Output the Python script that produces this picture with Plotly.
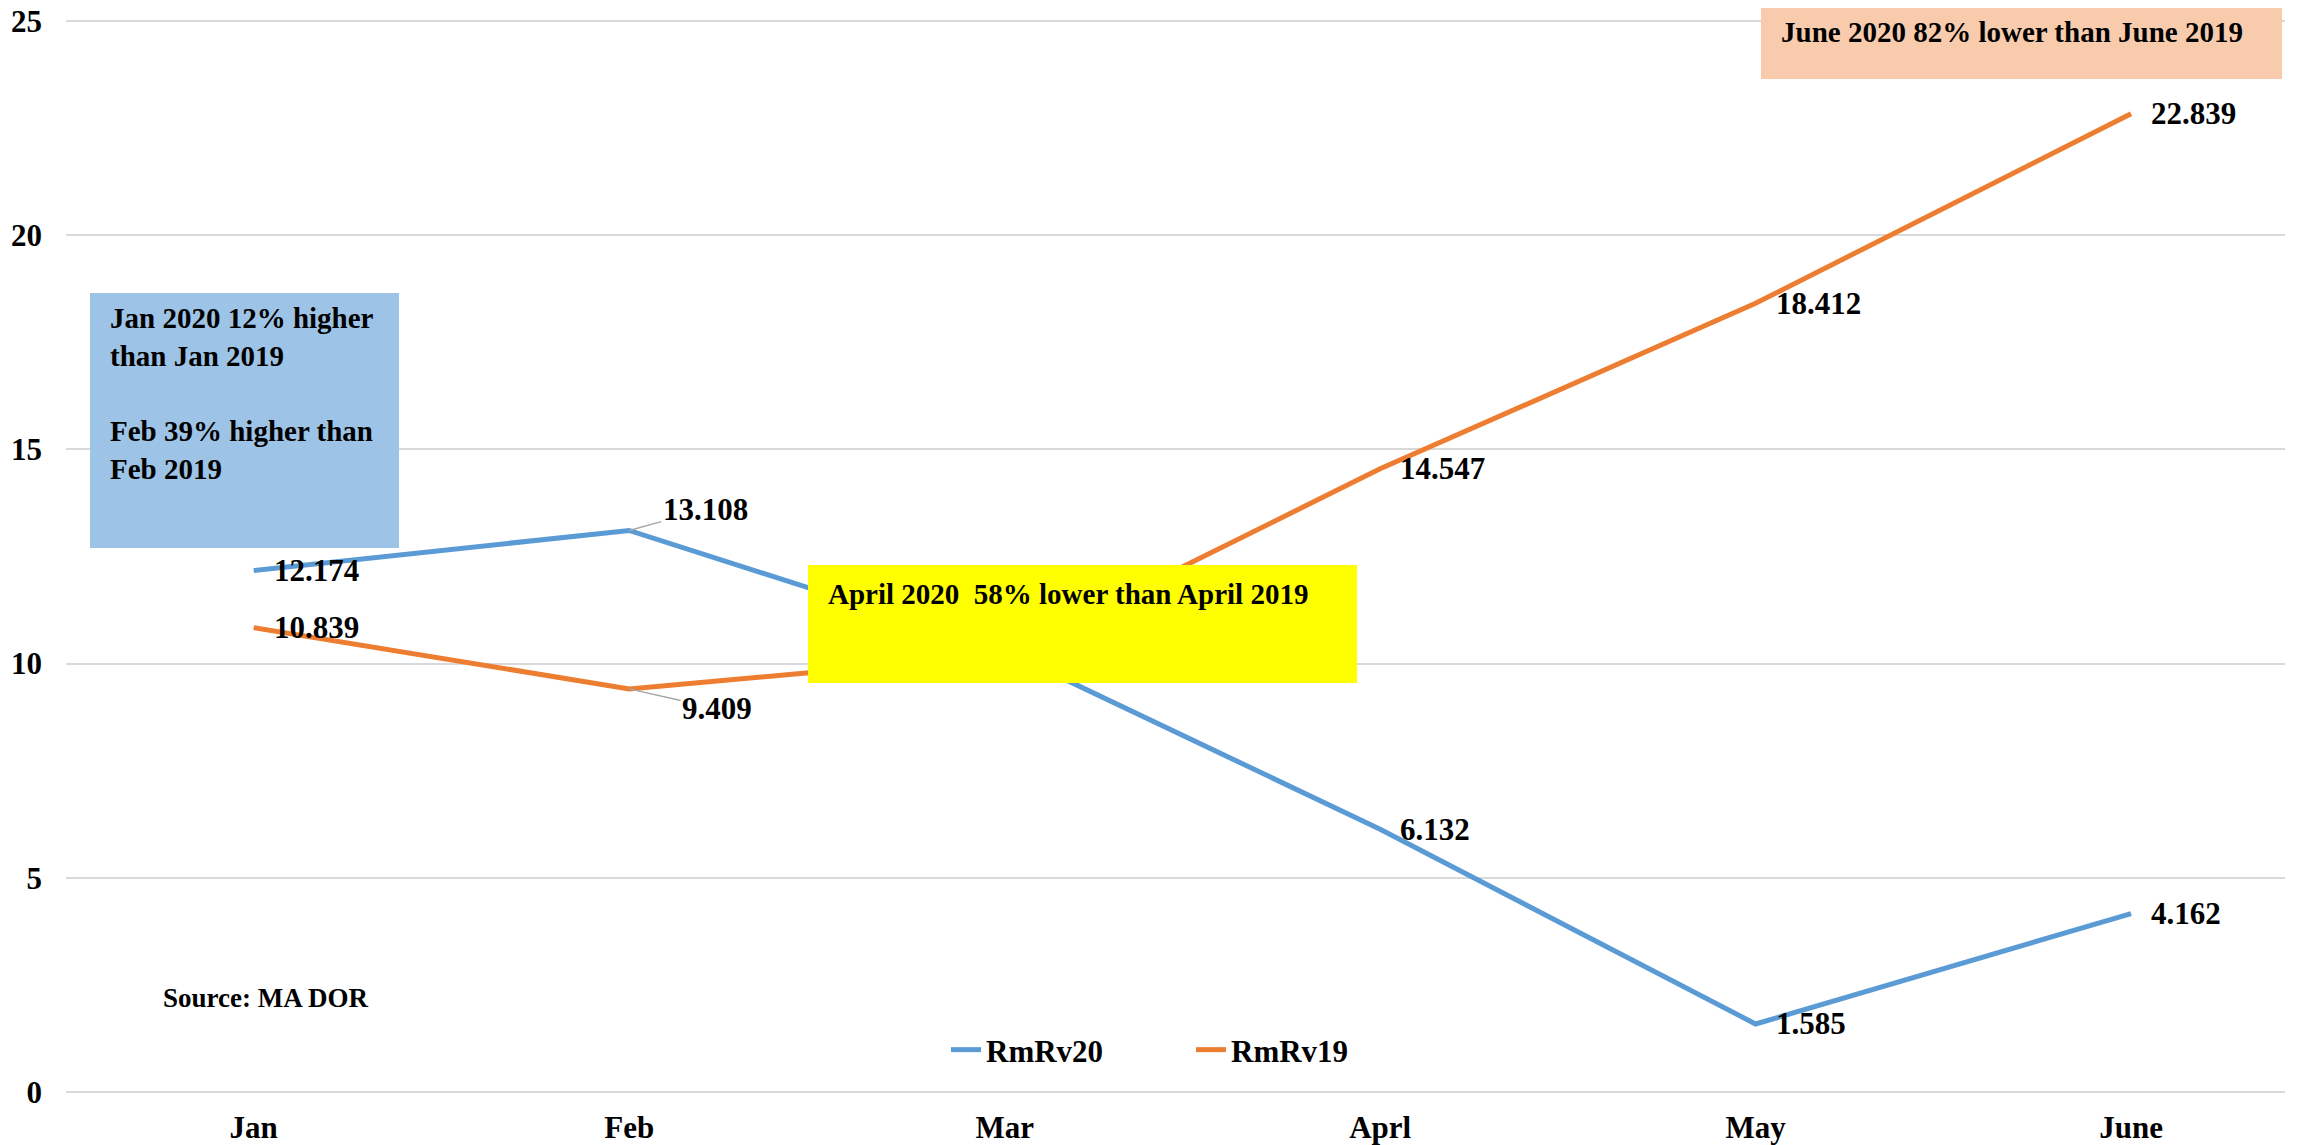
import plotly.graph_objects as go

# ---- data ----
months = ["Jan", "Feb", "Mar", "Aprl", "May", "June"]
rmrv20 = [12.174, 13.108, 10.3, 6.132, 1.585, 4.162]
rmrv19 = [10.839, 9.409, 10.2, 14.547, 18.412, 22.839]
label20 = ["12.174", "13.108", "", "6.132", "1.585", "4.162"]
label19 = ["10.839", "9.409", "", "14.547", "18.412", "22.839"]
y_ticks = [0, 5, 10, 15, 20, 25]

note_jan = "Jan 2020 12% higher<br>than Jan 2019<br> <br>Feb 39% higher than<br>Feb 2019"
note_apr = "April 2020 \u00a058% lower than April 2019"
note_jun = "June 2020 82% lower than June 2019"
source = "Source: MA DOR"

# ---- layout geometry (page has an 8px body margin) ----
OFF = 8
W, H = 2318 - OFF, 1145 - OFF
L, R, T, B = 66 - OFF, 33, 11, 51
PW, PH = W - L - R, H - T - B


def px(xp):
    """reference-page x pixel -> paper coordinate"""
    return (xp - OFF - L) / PW


def py(yp):
    """reference-page y pixel -> paper coordinate"""
    return (H - B - (yp - OFF)) / PH


FONT = "Liberation Serif"
BLUE = "#5B9BD5"
ORANGE = "#ED7D31"

fig = go.Figure()
fig.add_trace(go.Scatter(x=months, y=rmrv20, mode="lines", name="RmRv20",
                         line=dict(color=BLUE, width=5)))
fig.add_trace(go.Scatter(x=months, y=rmrv19, mode="lines", name="RmRv19",
                         line=dict(color=ORANGE, width=5)))

lab_font = dict(family=FONT, size=31, color="black", weight="bold")
annotations = []
for series, labels in ((rmrv20, label20), (rmrv19, label19)):
    for m, v, t in zip(months, series, labels):
        if not t:
            continue
        if m == "Feb":
            up = v > 11
            annotations.append(dict(x=m, y=v, xref="x", yref="y", text=t,
                                    showarrow=True, arrowhead=0, arrowwidth=1.5,
                                    arrowcolor="#A6A6A6", ax=76 if up else 88,
                                    ay=-21 if up else 20, standoff=0,
                                    font=lab_font, xanchor="center", yanchor="middle"))
        else:
            annotations.append(dict(x=m, y=v, xref="x", yref="y", text=t,
                                    showarrow=False, xanchor="left", yanchor="middle",
                                    xshift=18, font=lab_font))

note_font = dict(family=FONT, size=29, color="black", weight="bold")
annotations += [
    dict(x=px(108), y=py(300), xref="paper", yref="paper", text=note_jan,
         showarrow=False, xanchor="left", yanchor="top", align="left", font=note_font),
    dict(x=px(826), y=py(576), xref="paper", yref="paper", text=note_apr,
         showarrow=False, xanchor="left", yanchor="top", align="left", font=note_font),
    dict(x=px(1779), y=py(14), xref="paper", yref="paper", text=note_jun,
         showarrow=False, xanchor="left", yanchor="top", align="left", font=note_font),
    dict(x=px(161), y=py(998), xref="paper", yref="paper", text=source,
         showarrow=False, xanchor="left", yanchor="middle",
         font=dict(family=FONT, size=27, color="black", weight="bold")),
]

shapes = [
    dict(type="rect", xref="paper", yref="paper", x0=px(90), x1=px(399),
         y0=py(548), y1=py(293), fillcolor="#9DC3E6", line=dict(width=0), layer="above"),
    dict(type="rect", xref="paper", yref="paper", x0=px(808), x1=px(1357),
         y0=py(683), y1=py(565), fillcolor="#FFFF00", line=dict(width=0), layer="above"),
    dict(type="rect", xref="paper", yref="paper", x0=px(1761), x1=px(2282),
         y0=py(79), y1=py(3), fillcolor="#F8CBAD", line=dict(width=0), layer="above"),
]

fig.update_layout(
    width=W, height=H,
    margin=dict(l=L, r=R, t=T, b=B),
    paper_bgcolor="white", plot_bgcolor="white",
    font=dict(family=FONT, size=31, color="black", weight="bold"),
    showlegend=True,
    legend=dict(orientation="h", x=px(946), xanchor="left", y=py(1050),
                yanchor="middle", bgcolor="rgba(0,0,0,0)",
                font=dict(family=FONT, size=31, color="black", weight="bold"),
                entrywidth=200, entrywidthmode="pixels", tracegroupgap=0),
    xaxis=dict(type="category", range=[-0.5, 5.41], showgrid=False, showline=False,
               zeroline=False, ticks="", ticklabelstandoff=12, automargin=False,
               ticklabeloverflow="allow",
               tickfont=dict(family=FONT, size=31, color="black", weight="bold")),
    yaxis=dict(range=[-0.05, 25.05], tickvals=y_ticks, showgrid=True, gridcolor="#D9D9D9",
               gridwidth=1.6, showline=False, zeroline=False, ticks="",
               ticklabelstandoff=23, automargin=False, ticklabeloverflow="allow",
               tickfont=dict(family=FONT, size=31, color="black", weight="bold")),
    annotations=annotations,
    shapes=shapes,
)

fig.write_html("out.html")
